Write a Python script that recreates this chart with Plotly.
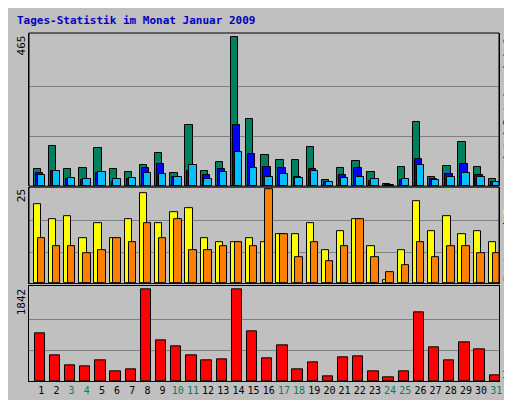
import plotly.graph_objects as go

days = list(range(1, 32))
weekend = [3, 4, 10, 11, 17, 18, 24, 25, 31]

hits = [55, 124, 52, 58, 118, 52, 45, 67, 102, 42, 190, 48, 74, 465, 209, 96,
        80, 80, 121, 20, 58, 77, 45, 7, 61, 200, 29, 64, 137, 61, 23]
files = [42, 48, 23, 20, 42, 14, 23, 58, 70, 29, 48, 36, 52, 190, 99, 61,
         58, 29, 52, 14, 36, 58, 17, 5, 20, 86, 23, 39, 70, 36, 14]
pages = [36, 48, 26, 23, 45, 23, 26, 42, 39, 29, 67, 23, 45, 108, 58, 29,
         39, 26, 48, 14, 26, 29, 23, 2, 23, 67, 20, 29, 42, 29, 14]
visits = [21, 17, 18, 12, 16, 12, 17, 24, 16, 19, 20, 12, 11, 11, 12, 11,
          13, 13, 16, 9, 14, 17, 10, 1, 9, 22, 14, 18, 13, 14, 11]
hosts = [12, 10, 10, 8, 9, 12, 11, 16, 12, 17, 9, 9, 10, 11, 10, 25,
         13, 7, 11, 6, 10, 17, 7, 3, 5, 11, 7, 10, 10, 8, 8]
kbytes = [954, 511, 309, 289, 410, 188, 228, 1842, 813, 692, 511, 410, 430, 1842, 995, 450,
          712, 228, 370, 87, 470, 491, 188, 67, 188, 1378, 672, 410, 773, 632, 108]

mono = "DejaVu Sans Mono"
edge = dict(color="black", width=1)

fig = go.Figure()


def bars(y, color, offset, width, yaxis):
    fig.add_trace(go.Bar(x=days, y=y, marker=dict(color=color, line=edge),
                         offset=offset, width=width, xaxis="x", yaxis=yaxis,
                         showlegend=False, hoverinfo="x+y"))


bars(hits, "#008060", -0.5, 0.49, "y")
bars(files, "#0000ff", -0.37, 0.49, "y")
bars(pages, "#00c0ff", -0.24, 0.49, "y")
bars(visits, "#ffff00", -0.5, 0.49, "y2")
bars(hosts, "#ff8000", -0.24, 0.49, "y2")
bars(kbytes, "#ff0000", -0.44, 0.68, "y3")

ticktext = ['<span style="color:#008060">%d</span>' % d if d in weekend else str(d)
            for d in days]

grid = dict(showgrid=True, gridcolor="#808080", gridwidth=1, showticklabels=False,
            ticks="", zeroline=False, showline=True, linecolor="black", mirror=True)

fig.update_layout(
    width=512, height=400,
    margin=dict(l=21, r=21, t=25, b=25),
    paper_bgcolor="#c0c0c0", plot_bgcolor="#c0c0c0",
    barmode="overlay", bargap=0,
    font=dict(family=mono, size=11, color="black"),
    xaxis=dict(range=[0.19, 31.18], tickvals=days, ticktext=ticktext, ticks="",
               tickangle=0, showgrid=False, showline=True, linecolor="black", mirror=True,
               anchor="y3", tickfont=dict(size=10)),
    yaxis=dict(domain=[0.56, 1], range=[0, 478], tickvals=[155, 310], **grid),
    yaxis2=dict(domain=[0.28, 0.557], range=[0, 25.6], tickvals=[8.33, 16.67], **grid),
    yaxis3=dict(domain=[0, 0.272], range=[0, 1900], tickvals=[614, 1228], **grid),
)

# frames around the upper panels
for yd in [[0.56, 1], [0.28, 0.557]]:
    fig.add_shape(type="rect", xref="paper", yref="paper", x0=0, x1=1, y0=yd[0], y1=yd[1],
                  line=dict(color="black", width=1))

fig.add_annotation(text="<b>Tages-Statistik im Monat Januar 2009</b>", xref="paper", yref="paper",
                   x=-0.03, y=1.037, xanchor="left", yanchor="middle", showarrow=False,
                   font=dict(family=mono, size=11, color="#0000c0"))

for txt, yy in [("465", 1.0), ("25", 0.557), ("1842", 0.272)]:
    fig.add_annotation(text=txt, xref="paper", yref="paper", x=-0.016, y=yy, textangle=-90,
                       xanchor="center", yanchor="top", showarrow=False,
                       font=dict(family=mono, size=11))

right = [
    ('<span style="color:#00c0ff">Seiten</span> / <span style="color:#0000ff">Dateien</span>'
     ' / <span style="color:#008060">Anfragen</span>', 0.56),
    ('<span style="color:#ff8000">Rechner</span> / <span style="color:#ffff00">Besuche</span>'
     ' / <span style="color:#00c0ff">Seiten</span>', 0.28),
    ('<span style="color:#ff0000">kb</span>', 0.0),
]
for txt, yy in right:
    fig.add_annotation(text=txt, xref="paper", yref="paper", x=1.019, y=yy, textangle=-90,
                       xanchor="center", yanchor="bottom", showarrow=False,
                       font=dict(family=mono, size=11))

fig.write_html("out.html")
